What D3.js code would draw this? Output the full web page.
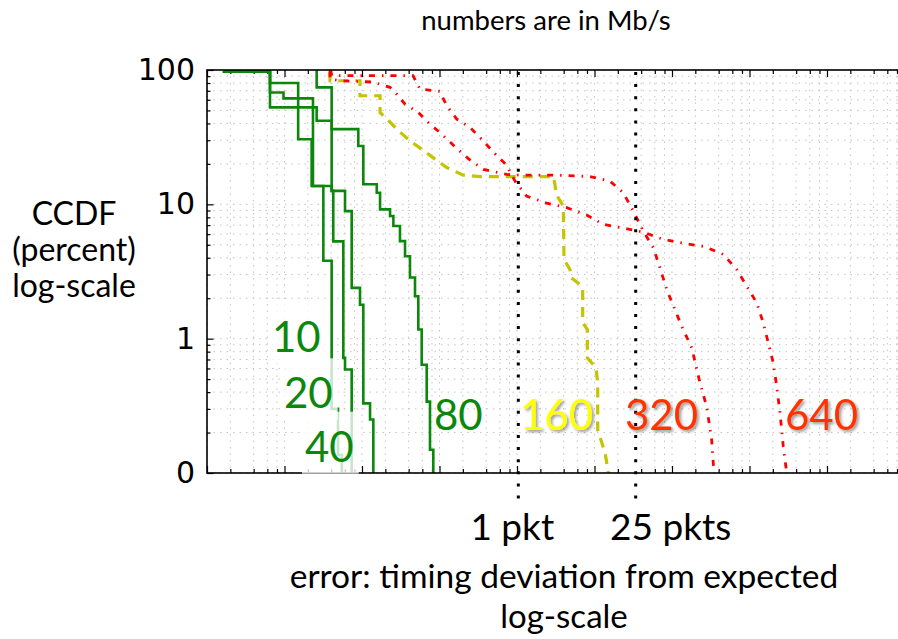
<!DOCTYPE html>
<html><head><meta charset="utf-8">
<script src="https://cdn.jsdelivr.net/npm/d3@7"></script>
<style>body{margin:0;background:#fff;}svg{display:block;}</style>
</head><body>
<svg id="chart" width="898" height="639"></svg>
<script>
// ---------- data (x: timing deviation, log units; p: CCDF percent) ----------
const yTickValues = [100, 10, 1, 0.1];
const yTickLabels = ["100", "10", "1", "0"];
const markerValues = [1.04, 34];
const markerLabels = ["1 pkt", "25 pkts"];
const seriesNames = ["10", "20", "40", "80", "160", "320", "640"];

// green step curves (10, 20, 40, 80 Mb/s)
const x10 = [0.00016, 0.00065, 0.0015, 0.00224, 0.00317, 0.00406, 0.0049, 0.0055];
const p10 = [97, 80, 30.5, 13.7, 3.8, 0.3, 0.136, 0.1];
const x20 = [0.00016, 0.00065, 0.00097, 0.00233, 0.00406, 0.00426, 0.00574, 0.00604, 0.00736];
const p20 = [97, 68, 61.5, 13.7, 12.6, 5.3, 0.72, 0.59, 0.1];
const x40 = [0.00016, 0.00065, 0.0026, 0.00406, 0.00604, 0.00736, 0.00942, 0.0104, 0.0127, 0.014];
const p40 = [97, 52.7, 41.9, 12.6, 8.9, 2.39, 1.79, 0.33, 0.25, 0.1];
const x80 = [0.0026, 0.0026, 0.00406, 0.00896, 0.0104, 0.0155, 0.0171, 0.023, 0.0254, 0.0309, 0.0359, 0.0416, 0.0483, 0.0533, 0.0589, 0.0684, 0.0754, 0.0832];
const p80 = [100, 74.3, 36.3, 27.2, 14.1, 12.2, 9.18, 8.18, 6.89, 5.32, 4.11, 2.85, 2.07, 1.17, 0.64, 0.34, 0.149, 0.1];
// yellow dashed (160 Mb/s)
const x160 = [0.00386, 0.00386, 0.00942, 0.00942, 0.0171, 0.0171, 0.023, 0.0309, 0.0416, 0.0589, 0.0875, 0.124, 0.203, 0.333, 2.92, 3.09, 3.19, 3.96, 4.04, 4.83, 4.97, 6.50, 7.04, 7.04, 8.08, 8.08, 10.45, 11.0, 11.0, 13.7, 15.1];
const p160 = [96.6, 83.2, 83.2, 64.3, 64.3, 48.3, 40.9, 34.5, 29.7, 25.7, 21.7, 18.8, 16.5, 16.1, 16.1, 14.1, 11.9, 9.71, 3.89, 3.27, 2.85, 2.53, 2.32, 1.32, 1.17, 0.72, 0.607, 0.469, 0.209, 0.141, 0.1];
// red dash-dot (320, 640 Mb/s)
const x320 = [0.00386, 0.00386, 0.0052, 0.0139, 0.023, 0.0267, 0.0359, 0.0533, 0.0754, 0.107, 0.158, 0.235, 0.367, 0.736, 1.093, 3.28, 8.75, 15.8, 23.5, 31.7, 42.6, 57.4, 70.0, 85.5, 109, 133, 180, 230, 280, 325, 348];
const p320 = [98, 85.7, 83.2, 81.3, 74.3, 68.2, 55.7, 48.3, 39.5, 33.3, 26.9, 21.9, 18.2, 16.7, 16.5, 16.5, 16.1, 14.9, 12.2, 8.91, 6.32, 4.75, 3.37, 2.32, 1.65, 1.24, 0.853, 0.467, 0.312, 0.176, 0.1];
const x640 = [0.00386, 0.0041, 0.0455, 0.056, 0.101, 0.124, 0.167, 0.248, 0.35, 0.495, 0.736, 0.942, 1.33, 2.42, 4.38, 7.93, 13.0, 24.8, 42.6, 77.3, 147, 267, 459, 684, 920, 1239, 1507, 1749, 2028, 2244, 2477, 2730, 3020];
const p640 = [100, 90.7, 90.7, 72.1, 69.3, 54.2, 43.1, 37.3, 30.5, 24.5, 19.5, 14.9, 11.5, 10.2, 9.45, 8.32, 7.09, 6.62, 6.21, 5.48, 5.12, 4.83, 4.24, 3.27, 2.46, 1.85, 1.31, 0.929, 0.659, 0.441, 0.279, 0.157, 0.1];

// ---------- layout ----------
const L = 207, R = 904.5, T = 70, B = 473;
const svg = d3.select("#chart");
const x = d3.scaleLog().domain([1e-4, 1e5]).range([L, R]);
const y = d3.scaleLog().domain([0.1, 100]).range([B, T]);
const labelFont = "Lato, 'Open Sans', sans-serif";

const defs = svg.append("defs");
defs.append("clipPath").attr("id", "plot").append("rect")
  .attr("x", L).attr("y", T).attr("width", R - L).attr("height", B - T);
defs.append("filter").attr("id", "sh").attr("x", "-20%").attr("y", "-20%").attr("width", "150%").attr("height", "150%")
  .append("feDropShadow").attr("dx", 2).attr("dy", 2).attr("stdDeviation", 1.5)
  .attr("flood-color", "#000").attr("flood-opacity", 0.4);

// tick values
const xMajor = d3.range(-4, 6).map(k => Math.pow(10, k));
const xMinor = [];
d3.range(-4, 5).forEach(k => [2, 4, 6, 8].forEach(m => xMinor.push(m * Math.pow(10, k))));
const yMajor = [0.1, 1, 10, 100];
const yMinor = [];
d3.range(-1, 2).forEach(k => d3.range(2, 10).forEach(m => yMinor.push(m * Math.pow(10, k))));

// grid
const grid = svg.append("g").attr("stroke", "#c4c4c4").attr("stroke-width", 1).attr("stroke-dasharray", "1.5,5");
grid.selectAll(".gx").data(xMinor.concat(xMajor)).join("line")
  .attr("x1", d => x(d)).attr("x2", d => x(d)).attr("y1", T).attr("y2", B);
grid.selectAll(".gy").data(yMinor.concat(yMajor)).join("line")
  .attr("x1", L).attr("x2", R).attr("y1", d => y(d)).attr("y2", d => y(d));

// axes with inward ticks
const axB = d3.axisBottom(x).tickValues(xMinor).tickSize(-4).tickFormat("");
const axBM = d3.axisBottom(x).tickValues(xMajor).tickSize(-7).tickFormat("");
const axT = d3.axisTop(x).tickValues(xMinor).tickSize(-4).tickFormat("");
const axTM = d3.axisTop(x).tickValues(xMajor).tickSize(-7).tickFormat("");
const axL = d3.axisLeft(y).tickValues(yMinor).tickSize(-3.5).tickFormat("");
const axLM = d3.axisLeft(y).tickValues(yMajor).tickSize(-6.5).tickFormat("");
function styleAxis(g) { g.select(".domain").remove(); g.selectAll("line").attr("stroke", "#000").attr("stroke-width", 1.2); }
svg.append("g").attr("transform", `translate(0,${B})`).call(axB).call(styleAxis);
svg.append("g").attr("transform", `translate(0,${B})`).call(axBM).call(styleAxis);
svg.append("g").attr("transform", `translate(0,${T})`).call(axT).call(styleAxis);
svg.append("g").attr("transform", `translate(0,${T})`).call(axTM).call(styleAxis);
svg.append("g").attr("transform", `translate(${L},0)`).call(axL).call(styleAxis);
svg.append("g").attr("transform", `translate(${L},0)`).call(axLM).call(styleAxis);

// y tick labels
svg.append("g").selectAll("text").data(yTickValues).join("text")
  .attr("x", 195).attr("y", d => y(d) + 10)
  .attr("text-anchor", "end").attr("font-family", "'DejaVu Sans', sans-serif")
  .attr("font-size", 30).attr("fill", "#000")
  .text((d, i) => yTickLabels[i]);

// data lines
const plot = svg.append("g").attr("clip-path", "url(#plot)");
const stepLine = d3.line().x(d => x(d[0])).y(d => y(d[1])).curve(d3.curveStepAfter);
const linLine = d3.line().x(d => x(d[0])).y(d => y(d[1]));
const zip = (a, b) => a.map((v, i) => [v, b[i]]);
const green = "#0b880b";
[[x10, p10], [x20, p20], [x40, p40], [x80, p80]].forEach(([xs, ps]) => {
  plot.append("path").attr("d", stepLine(zip(xs, ps)))
    .attr("fill", "none").attr("stroke", green).attr("stroke-width", 2.6);
});
plot.append("path").attr("d", linLine(zip(x160, p160)))
  .attr("fill", "none").attr("stroke", "#c4c400").attr("stroke-width", 3.2)
  .attr("stroke-dasharray", "10,7");
[[x320, p320], [x640, p640]].forEach(([xs, ps]) => {
  plot.append("path").attr("d", linLine(zip(xs, ps)))
    .attr("fill", "none").attr("stroke", "#ff0000").attr("stroke-width", 2.8)
    .attr("stroke-dasharray", "6,7,1.5,7");
});

// frame
svg.append("rect").attr("x", L).attr("y", T).attr("width", R - L).attr("height", B - T)
  .attr("fill", "none").attr("stroke", "#000").attr("stroke-width", 1.6);

// packet markers (black dotted verticals)
svg.append("g").selectAll("line").data(markerValues).join("line")
  .attr("x1", d => x(d)).attr("x2", d => x(d)).attr("y1", T + 2).attr("y2", B + 26)
  .attr("stroke", "#000").attr("stroke-width", 3).attr("stroke-dasharray", "3,9.1");

// series labels
const labelX = [272, 284, 305, 434, 520, 625, 785];
const labelY = [351.7, 408.3, 461.7, 430, 430, 430, 430];
const labelColor = [green, green, green, green, "#ffff00", "#ff3300", "#ff3300"];
const labelShadow = [false, false, false, false, true, true, true];
const labelBox = [true, true, true, false, false, false, false];
const lg = svg.append("g");
seriesNames.forEach((name, i) => {
  const t = lg.append("text").attr("x", labelX[i]).attr("y", labelY[i])
    .attr("font-family", labelFont).attr("font-size", 42).attr("fill", labelColor[i])
    .text(name);
  if (labelShadow[i]) t.attr("filter", "url(#sh)");
  if (labelBox[i]) {
    const bb = t.node().getBBox();
    lg.insert("rect", () => t.node())
      .attr("x", bb.x - 3).attr("y", labelY[i] - 50)
      .attr("width", bb.width + 8).attr("height", 62)
      .attr("fill", "#fff").attr("opacity", 0.78);
  }
});

// texts
const txt = (s, xx, yy, size, anchor) => svg.append("text").attr("x", xx).attr("y", yy)
  .attr("font-family", labelFont).attr("font-size", size).attr("text-anchor", anchor || "middle")
  .attr("fill", "#000").text(s);
txt("numbers are in Mb/s", 546, 30, 27.5);
txt(markerLabels[0], x(markerValues[0]) - 6, 540, 37);
txt(markerLabels[1], x(markerValues[1]) + 35, 540, 37);
txt("error: timing deviation from expected", 564, 588, 33.5);
txt("log-scale", 564, 628, 33);
txt("CCDF", 74, 225, 32);
txt("(percent)", 74, 261, 32);
txt("log-scale", 74, 297, 32);
</script>
</body></html>
